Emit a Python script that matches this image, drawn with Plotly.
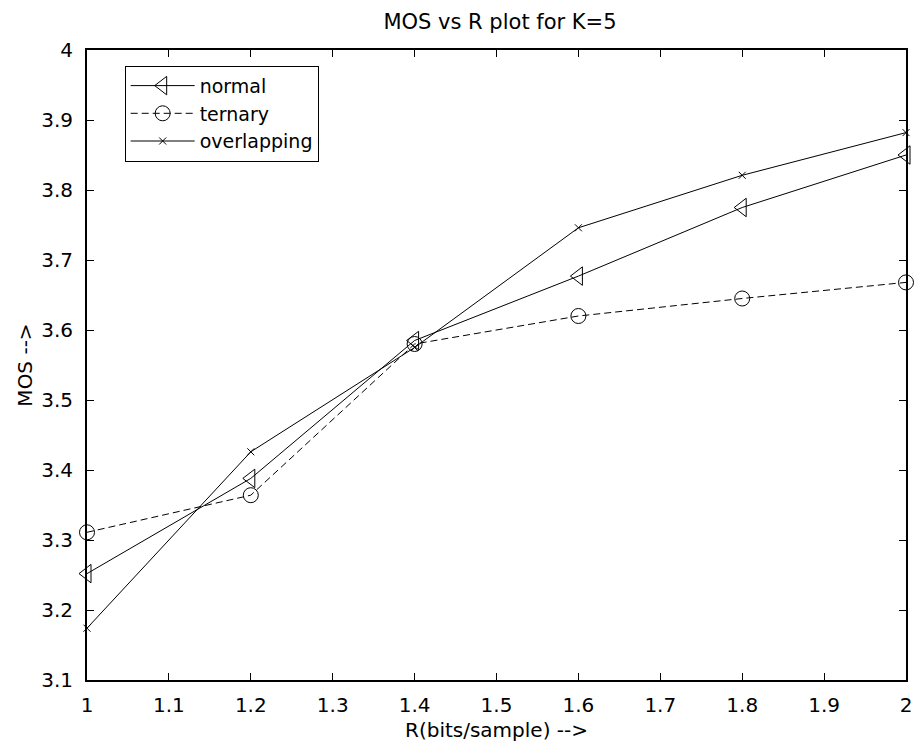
import plotly.graph_objects as go

# Bit rate (bits/sample) and mean opinion scores for K=5
rate = [1.0, 1.2, 1.4, 1.6, 1.8, 2.0]
mos_normal = [3.252, 3.388, 3.585, 3.677, 3.775, 3.850]
mos_ternary = [3.311, 3.364, 3.580, 3.620, 3.645, 3.668]
mos_overlapping = [3.174, 3.426, 3.575, 3.746, 3.821, 3.882]

x_ticks = [1.0, 1.1, 1.2, 1.3, 1.4, 1.5, 1.6, 1.7, 1.8, 1.9, 2.0]
x_tick_text = ["1", "1.1", "1.2", "1.3", "1.4", "1.5", "1.6", "1.7", "1.8", "1.9", "2"]
y_ticks = [3.1, 3.2, 3.3, 3.4, 3.5, 3.6, 3.7, 3.8, 3.9, 4.0]
y_tick_text = ["3.1", "3.2", "3.3", "3.4", "3.5", "3.6", "3.7", "3.8", "3.9", "4"]

fig = go.Figure()
fig.add_trace(go.Scatter(
    x=rate, y=mos_normal, name="normal", mode="lines+markers", cliponaxis=False,
    line=dict(color="black", width=1),
    marker=dict(symbol="triangle-left-open", size=16, color="black", line=dict(width=1)),
))
fig.add_trace(go.Scatter(
    x=rate, y=mos_ternary, name="ternary", mode="lines+markers", cliponaxis=False,
    line=dict(color="black", width=1, dash="7px,4px"),
    marker=dict(symbol="circle-open", size=15, color="black", line=dict(width=1)),
))
fig.add_trace(go.Scatter(
    x=rate, y=mos_overlapping, name="overlapping", mode="lines+markers", cliponaxis=False,
    line=dict(color="black", width=1),
    marker=dict(symbol="x-thin-open", size=7, color="black", line=dict(width=1)),
))

font = "DejaVu Sans, Arial, sans-serif"
text_font = dict(family=font, size=20, color="black")
axis_common = dict(
    showgrid=False, zeroline=False, showline=True, linecolor="black", linewidth=2,
    mirror="allticks", ticks="inside", ticklen=7, tickcolor="black", tickwidth=1,
    tickfont=text_font,
)

fig.update_layout(
    width=922, height=748,
    paper_bgcolor="white", plot_bgcolor="white",
    margin=dict(l=87, r=10, t=50, b=68),
    title=dict(text="MOS vs R plot for K=5", x=500 / 922, xanchor="center",
               yref="container", y=1 - 22 / 748, yanchor="middle",
               font=dict(family=font, size=21, color="black")),
    xaxis=dict(range=[1, 2], tickvals=x_ticks, ticktext=x_tick_text, ticklabelstandoff=6,
               title=dict(text="R(bits/sample) -->", font=text_font, standoff=7),
               **axis_common),
    yaxis=dict(range=[3.1, 4.0], tickvals=y_ticks, ticktext=y_tick_text, ticklabelstandoff=8,
               title=dict(text="MOS -->", font=text_font, standoff=3),
               **axis_common),
    legend=dict(x=0.046, y=0.975, xanchor="left", yanchor="top",
                bgcolor="white", bordercolor="black", borderwidth=1,
                font=dict(family=font, size=19, color="black"),
                itemwidth=64, tracegroupgap=0),
    showlegend=True,
)

fig.write_html("out.html")
